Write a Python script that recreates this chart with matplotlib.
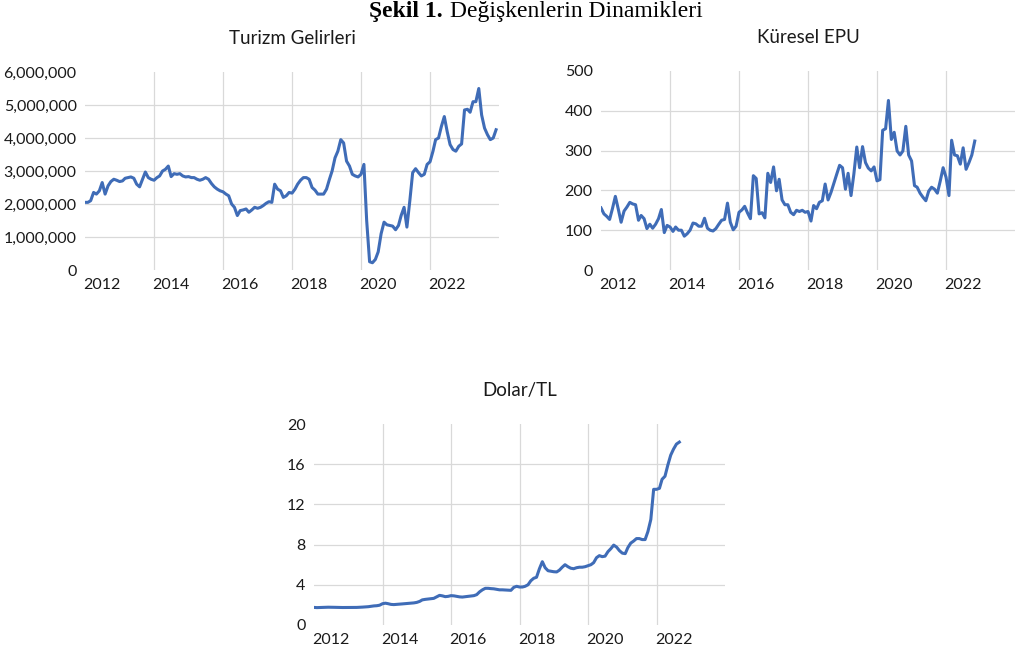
import numpy as np
import pandas as pd
import matplotlib
matplotlib.use('Agg')
import matplotlib.pyplot as plt
from matplotlib.ticker import FuncFormatter

plt.rcParams['font.family'] = ['Lato', 'DejaVu Sans']

# Turizm gelirleri, milyon (aylik, 2012-01 .. 2023-12)
turizm_mn = [
    2.05, 2.05, 2.10, 2.35, 2.30, 2.40, 2.65, 2.30, 2.55, 2.68, 2.75, 2.72,
    2.68, 2.70, 2.78, 2.80, 2.82, 2.78, 2.60, 2.52, 2.75, 2.97, 2.80, 2.75,
    2.72, 2.80, 2.85, 3.00, 3.05, 3.15, 2.83, 2.92, 2.90, 2.92, 2.85, 2.82,
    2.83, 2.80, 2.80, 2.75, 2.72, 2.75, 2.80, 2.75, 2.62, 2.52, 2.45, 2.40,
    2.37, 2.30, 2.25, 2.00, 1.90, 1.65, 1.80, 1.82, 1.85, 1.75, 1.82, 1.90,
    1.87, 1.90, 1.95, 2.02, 2.07, 2.05, 2.60, 2.45, 2.40, 2.20, 2.25, 2.35,
    2.33, 2.45, 2.60, 2.72, 2.80, 2.80, 2.75, 2.50, 2.42, 2.30, 2.30, 2.30,
    2.45, 2.75, 3.00, 3.40, 3.60, 3.95, 3.85, 3.30, 3.15, 2.90, 2.85, 2.82,
    2.90, 3.20, 1.50, 0.25, 0.22, 0.32, 0.55, 1.10, 1.45, 1.37, 1.35, 1.33,
    1.22, 1.35, 1.65, 1.90, 1.30, 2.10, 2.95, 3.07, 2.95, 2.85, 2.90, 3.20,
    3.28, 3.60, 3.95, 4.00, 4.35, 4.65, 4.20, 3.80, 3.65, 3.60, 3.75, 3.82,
    4.85, 4.87, 4.78, 5.10, 5.10, 5.50, 4.70, 4.30, 4.10, 3.95, 4.00, 4.25,
]

# Kuresel EPU (aylik, 2012-01 .. 2022-11)
epu = [
    156, 141, 135, 127, 154, 185, 154, 120, 148, 158, 170, 166,
    164, 125, 137, 129, 104, 115, 105, 115, 129, 152, 94, 112,
    108, 97, 108, 100, 100, 85, 91, 100, 118, 116, 110, 110,
    130, 105, 100, 98, 104, 115, 125, 127, 168, 120, 101, 110,
    145, 151, 160, 143, 129, 237, 230, 141, 144, 131, 243, 220,
    259, 199, 228, 176, 164, 164, 145, 139, 150, 147, 150, 145,
    147, 123, 162, 154, 170, 174, 216, 176, 195, 218, 241, 263,
    257, 203, 243, 187, 241, 309, 257, 310, 270, 256, 249, 259,
    224, 227, 351, 355, 426, 328, 346, 299, 289, 299, 361, 289,
    274, 212, 208, 193, 183, 174, 198, 208, 203, 193, 224, 257,
    233, 187, 326, 289, 287, 266, 307, 253, 270, 289, 324,
]

# Dolar/TL (aylik, 2012-01 .. 2022-09)
dolar_tl = [
    1.75, 1.73, 1.74, 1.75, 1.76, 1.77, 1.77, 1.76, 1.75, 1.75, 1.74, 1.74,
    1.74, 1.74, 1.75, 1.75, 1.76, 1.78, 1.80, 1.82, 1.86, 1.90, 1.92, 1.97,
    2.12, 2.17, 2.12, 2.05, 2.03, 2.05, 2.07, 2.10, 2.13, 2.15, 2.17, 2.20,
    2.25, 2.35, 2.50, 2.55, 2.58, 2.62, 2.65, 2.80, 2.95, 2.90, 2.82, 2.85,
    2.92, 2.90, 2.85, 2.80, 2.78, 2.82, 2.85, 2.88, 2.92, 3.02, 3.30, 3.50,
    3.65, 3.65, 3.62, 3.60, 3.55, 3.50, 3.50, 3.48, 3.47, 3.45, 3.75, 3.85,
    3.78, 3.78, 3.85, 4.00, 4.40, 4.65, 4.75, 5.60, 6.30, 5.70, 5.40, 5.35,
    5.30, 5.28, 5.45, 5.75, 6.00, 5.80, 5.65, 5.60, 5.70, 5.75, 5.75, 5.80,
    5.90, 6.00, 6.20, 6.70, 6.90, 6.80, 6.85, 7.30, 7.60, 7.95, 7.75, 7.40,
    7.15, 7.10, 7.70, 8.15, 8.35, 8.60, 8.60, 8.50, 8.50, 9.30, 10.50, 13.50,
    13.50, 13.60, 14.50, 14.80, 15.90, 16.90, 17.50, 18.00, 18.20,
]

years_grid = [2014, 2016, 2018, 2020, 2022]
years_label = [2012, 2014, 2016, 2018, 2020, 2022]

line_color = '#3f6cb7'
grid_color = '#d9d9d9'
text_color = '#1a1a1a'


def draw_panel(ax, values, title, yticks, fmt):
    dates = pd.date_range('2012-01-01', periods=len(values), freq='MS')
    ax.plot(dates, values, color=line_color, lw=2.2, solid_joinstyle='round')
    ax.set_xlim(pd.Timestamp('2012-01-01'), pd.Timestamp('2024-01-01'))
    ax.set_ylim(yticks[0], yticks[-1])
    ax.set_yticks(yticks)
    ax.yaxis.set_major_formatter(FuncFormatter(fmt))

    ax.set_xticks([pd.Timestamp(f'{y}-01-01') for y in years_grid])
    ax.set_xticklabels([''] * len(years_grid))
    ax.set_xticks([pd.Timestamp(f'{y}-07-01') for y in years_label], minor=True)
    ax.set_xticklabels([str(y) for y in years_label], minor=True)

    ax.tick_params(axis='both', which='both', length=0, labelsize=11.5,
                   labelcolor=text_color)
    ax.tick_params(axis='y', pad=6)
    ax.tick_params(axis='x', which='minor', pad=6)

    ax.set_axisbelow(True)
    ax.grid(True, which='major', color=grid_color, lw=0.9)
    ygl = ax.yaxis.get_gridlines()
    ygl[0].set_visible(False)
    ygl[-1].set_visible(False)
    for s in ax.spines.values():
        s.set_visible(False)
    ax.set_title(title, fontsize=13.5, color=text_color, pad=20)


fig = plt.figure(figsize=(10.2, 6.5), dpi=100)
W, H = 1020, 650


def add_axes(x0, x1, y0, y1):
    return fig.add_axes([x0 / W, 1 - y1 / H, (x1 - x0) / W, (y1 - y0) / H])


ax1 = add_axes(85, 499, 72, 270)
ax2 = add_axes(601, 1015, 71, 270)
ax3 = add_axes(314, 725, 424, 625)

draw_panel(ax1, np.array(turizm_mn) * 1e6, 'Turizm Gelirleri',
           [0, 1e6, 2e6, 3e6, 4e6, 5e6, 6e6], lambda v, p: f'{v:,.0f}')
draw_panel(ax2, epu, 'Küresel EPU',
           [0, 100, 200, 300, 400, 500], lambda v, p: f'{v:.0f}')
draw_panel(ax3, dolar_tl, 'Dolar/TL',
           [0, 4, 8, 12, 16, 20], lambda v, p: f'{v:.0f}')

fig.text(443 / W, 1 - 12 / H, 'Şekil 1.', ha='right', va='center',
         family='Liberation Serif', fontsize=17, fontweight='bold', color='black')
fig.text(450 / W, 1 - 12 / H, 'Değişkenlerin Dinamikleri', ha='left', va='center',
         family='Liberation Serif', fontsize=17, color='black')

fig.savefig('out.png', dpi=100)
